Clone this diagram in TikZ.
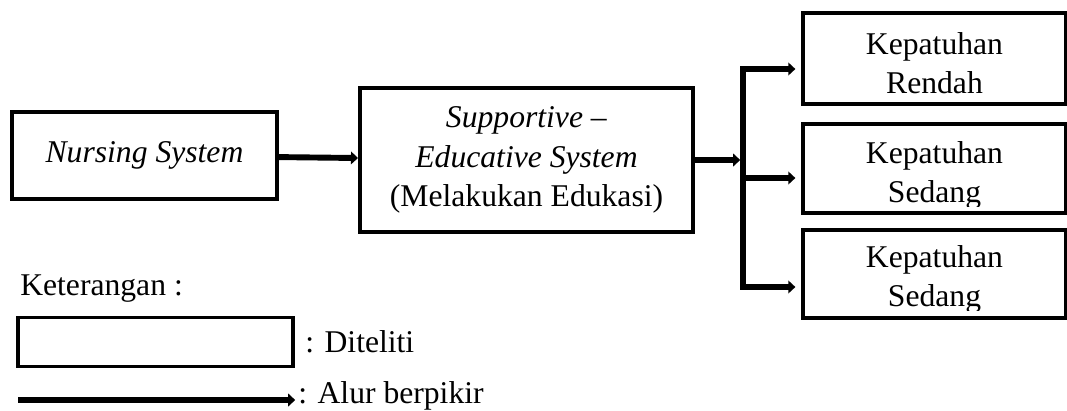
\documentclass[tikz,border=0pt]{standalone}
\usepackage{fontspec}
\setmainfont{Liberation Serif}
\usetikzlibrary{arrows.meta}
\tikzset{
  box/.style={draw, line width=2.8pt, inner sep=0pt, align=center},
  flow/.style={line width=4.2pt, -{Triangle[length=5pt,width=9pt]}},
  lbl/.style={inner sep=0pt, align=center},
}

\begin{document}
\begin{tikzpicture}[x=0.025cm, y=-0.025cm, font=\fontsize{22.5}{28}\selectfont]
  \useasboundingbox (0,0) rectangle (1067,410);
  % Main boxes
  \node[box, minimum width=6.625cm, minimum height=2.175cm] (nurse) at (144.5,155.5) {\textit{Nursing System}};
  \node[box, minimum width=8.325cm, minimum height=3.6cm] (support) at (526.5,160)
    {\textit{Supportive –}\\\textit{Educative System}\\(Melakukan Edukasi)};
  % Outcome boxes
  \node[box, minimum width=6.575cm, minimum height=2.275cm] (low) at (934.5,58.5) {};
  \node[box, minimum width=6.575cm, minimum height=2.225cm] (mid1) at (934.5,168.5) {};
  \node[box, minimum width=6.575cm, minimum height=2.2cm] (mid2) at (934.5,274) {};
  \node[lbl, anchor=north] (lowtxt) at (934.5,32) {Kepatuhan\\Rendah};
  \begin{scope}
    \clip (803,124) rectangle (1066,206);
    \node[lbl, anchor=north] (mid1txt) at (934.5,141) {Kepatuhan\\Sedang};
  \end{scope}
  \begin{scope}
    \clip (803,230) rectangle (1066,310);
    \node[lbl, anchor=north] (mid2txt) at (934.5,245) {Kepatuhan\\Sedang};
  \end{scope}
  % Junction points on the trunk
  \coordinate (j1) at (743,69);
  \coordinate (j2) at (743,178);
  \coordinate (j3) at (743,287);
  \coordinate (jin) at (support.east -| j1);
  % Arrows
  \draw[flow] (nurse) -- (support);
  \draw[flow, shorten >=2pt] (support.east) -- (jin);
  \draw[line width=4.2pt, {Triangle[length=5pt,width=9pt]}-{Triangle[length=5pt,width=9pt]}, shorten <=4pt, shorten >=4pt]
    (j1 -| low.west) -- (j1) -- (j3) -- (j3 -| mid2.west);
  \draw[flow, shorten >=4pt] (j2) -- (j2 -| mid1.west);
  % Legend
  \node[lbl, anchor=base west] (ket) at (20,295) {Keterangan :};
  \node[box, minimum width=6.875cm, minimum height=1.225cm] (key) at (155.5,342) {};
  \node[lbl, anchor=base west] (diteliti) at (305,352) {: Diteliti};
  \coordinate (a0) at (18,400);
  \node[lbl, anchor=base west] (alur) at (298,403) {: Alur berpikir};
  \draw[flow, shorten >=2pt] (a0) -- (a0 -| alur.west);
\end{tikzpicture}
\end{document}
